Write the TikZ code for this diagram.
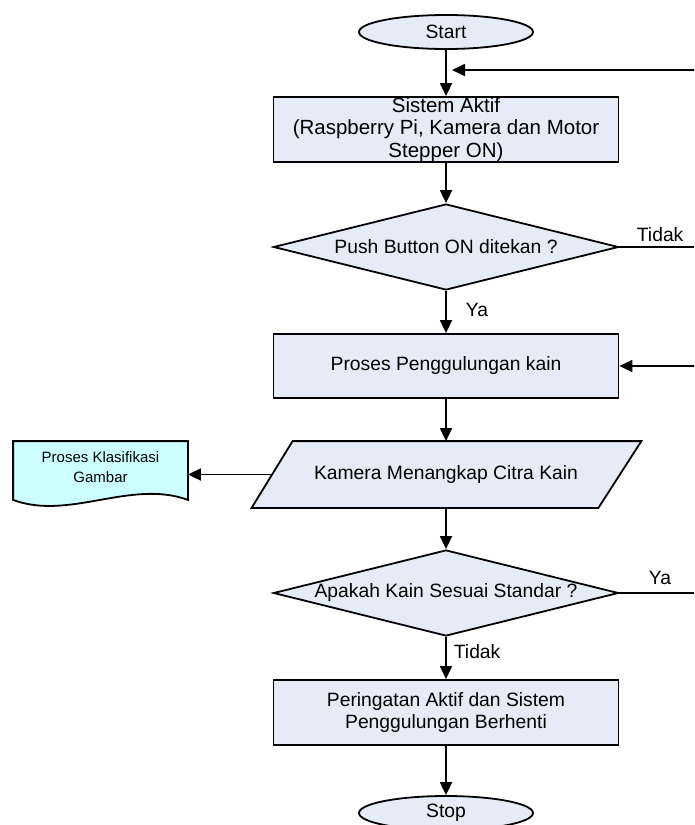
\documentclass[tikz,border=0pt]{standalone}
\usepackage{fontspec}
\setmainfont{Liberation Sans}
\usetikzlibrary{shapes,arrows.meta,backgrounds}
\definecolor{boxfill}{HTML}{E6ECF7}
\definecolor{docfill}{HTML}{CCFFFF}

\begin{document}
\begin{tikzpicture} [x=1pt, y=-1pt]
\tikzstyle{every node}=[font=\fontsize{19.3}{22.5}\selectfont, inner sep=0pt, line width=1.8pt];
\tikzstyle{term}=[draw, fill=boxfill, shape=ellipse, minimum width=174pt, minimum height=34pt];
\tikzstyle{proc}=[draw, fill=boxfill, shape=rectangle, minimum width=345pt, minimum height=65pt, align=center];
\tikzstyle{dec}=[draw, fill=boxfill, shape=diamond, aspect=4, minimum width=345pt, minimum height=86pt];
\tikzstyle{inout}=[shape=rectangle, minimum width=346pt, minimum height=65pt];
\tikzstyle{docbox}=[font=\fontsize{15}{20}\selectfont, align=center, minimum width=173pt, minimum height=57pt];
\tikzstyle{lbl}=[anchor=west];
\tikzstyle{line}=[line width=1.8pt, -{Triangle[length=13pt,width=12pt]}];
\useasboundingbox (0,0) rectangle (694,825);
\clip (0,0) rectangle (694,825);
\node[term] (v0) at (446, 32) {Start};
\node[proc, font=\fontsize{20.5}{22.5}\selectfont] (v1) at (446, 129.5) {Sistem Aktif\\(Raspberry Pi, Kamera dan Motor\\Stepper ON)};
\node[dec] (v2) at (446, 247) {Push Button ON ditekan ?};
\node[proc, minimum height=64pt] (v3) at (446, 366) {Proses Penggulungan kain};
\node[inout] (v4) at (446, 474.5) {Kamera Menangkap Citra Kain};
\node[docbox, yshift=3pt] (v5) at (100.5, 470.5) {Proses Klasifikasi\\Gambar};
\node[dec] (v6) at (446, 593) {Apakah Kain Sesuai Standar ?};
\node[proc] (v7) at (446, 712.5) {Peringatan Aktif dan Sistem\\Penggulungan Berhenti};
\node[term] (v8) at (446, 813) {Stop};
\node[lbl] (t1) at (636, 235) {Tidak};
\node[lbl] (y1) at (465, 310) {Ya};
\node[lbl] (y2) at (648, 578) {Ya};
\node[lbl] (t2) at (453, 652) {Tidak};
\coordinate (j1) at (446, 70);
\coordinate (rt) at (702, 0);
\begin{scope}[on background layer]
\draw[fill=boxfill, line width=1.8pt] ([xshift=-20.5pt]v4.south west) -- ([xshift=20.5pt]v4.north west)
  -- ([xshift=21.5pt]v4.north east) -- ([xshift=-21.5pt]v4.south east) -- cycle;
\draw[fill=docfill, line width=1.8pt] ([yshift=-3pt]v5.north west) -- ([yshift=-3pt]v5.north east)
  -- ([yshift=-3pt]v5.south east) .. controls +(-57,-21) and +(56,21) .. ([yshift=-3pt]v5.south west) -- cycle;
\end{scope}
\draw[line] (v0) -- (v1);
\draw[line] (v1.south) -- (v2.north);
\draw[line] (v2) -- (v3);
\draw[line] (v3) -- (v4);
\draw[line] (v4.south) -- (v6.north);
\draw[line] (v6) -- (v7);
\draw[line] (v7) -- (v8);
\draw[line] (v4.west) -- (v4.west -| v5.east);
% loops back on the right
\draw[line, shorten >=6pt] (v2.east) -- (v2.east -| rt) |- (j1);
\draw[line] (v6.east) -- (v6.east -| rt) |- (v3.east);
\end{tikzpicture}
\end{document}
